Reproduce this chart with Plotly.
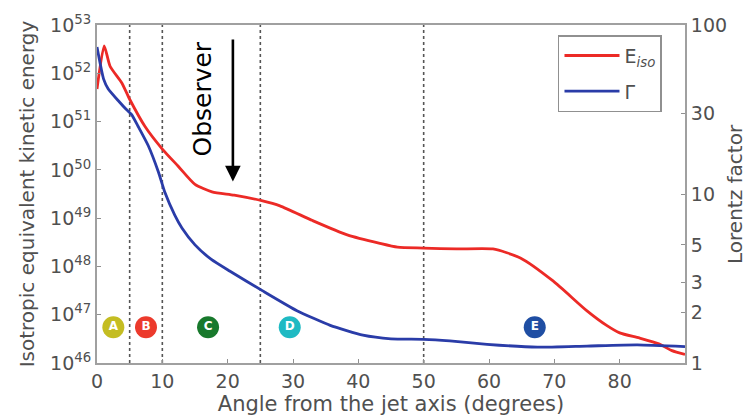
import plotly.graph_objects as go

# Isotropic equivalent kinetic energy (erg) versus angle from the jet axis
angle_e = [0, 1.1, 2, 3.8, 5, 7.35, 10, 12.4, 15, 17.6, 21, 25.2, 28, 33, 38.3,
           43.3, 46, 50, 55, 60.6, 64.8, 69.8, 75, 78, 80, 83, 86, 88, 90]
e_iso = [4.7e51, 3.7e52, 1.4e52, 6.3e51, 2.9e51, 7.9e50, 2.7e50, 1.2e50, 5.0e49,
         3.5e49, 3.0e49, 2.3e49, 1.8e49, 8.9e48, 4.5e48, 3.0e48, 2.5e48, 2.4e48,
         2.3e48, 2.3e48, 1.5e48, 5.0e47, 1.2e47, 6.0e46, 4.2e46, 3.3e46, 2.5e46,
         1.8e46, 1.5e46]

# Lorentz factor versus angle
angle_g = [0, 1.0, 1.7, 3.3, 4.5, 5.3, 6.3, 7.85, 9.4, 10.4, 11.9, 13, 15, 17.5,
           20.3, 25.3, 30.6, 35.7, 40.7, 45, 50, 54, 59.7, 67.4, 75, 82.7, 90]
gamma = [74, 48, 42, 35.5, 31.6, 29.5, 25.1, 19.3, 13.5, 10.2, 7.5, 6.3, 5.0, 4.1,
         3.5, 2.68, 2.04, 1.67, 1.46, 1.39, 1.38, 1.35, 1.29, 1.24, 1.26, 1.28, 1.25]

# Region boundaries and region markers
boundaries = [5, 10, 25, 50]
region_labels = ["A", "B", "C", "D", "E"]
region_x = [2.5, 7.5, 17, 29.5, 67]
region_colors = ["#c4bd22", "#ec3a2c", "#18792c", "#1fbac3", "#1f4ea3"]
region_level = 5.5e46

x_ticks = [0, 10, 20, 30, 40, 50, 60, 70, 80]
left_exps = [46, 47, 48, 49, 50, 51, 52, 53]
right_ticks = [1, 2, 3, 5, 10, 30, 100]

grey = "#505050"
font_family = "DejaVu Sans"

fig = go.Figure()

fig.add_trace(go.Scatter(
    x=angle_e, y=e_iso, mode="lines", name="E<sub><i>iso</i></sub>",
    legendgroup="e",
    line=dict(color="#ec2a26", width=2.8, shape="spline", smoothing=0.6),
    yaxis="y"))
fig.add_trace(go.Scatter(
    x=angle_g, y=gamma, mode="lines", name="Γ", legendgroup="g",
    line=dict(color="#2a3ca8", width=2.8, shape="spline", smoothing=0.5),
    yaxis="y2"))

fig.add_trace(go.Scatter(
    x=region_x, y=[region_level] * len(region_x), mode="markers+text",
    text=["<b>%s</b>" % s for s in region_labels], textposition="middle center",
    textfont=dict(color="white", size=12, family=font_family),
    marker=dict(size=22, color=region_colors, line=dict(width=0)),
    showlegend=False, hoverinfo="skip", yaxis="y"))

for b in boundaries:
    fig.add_shape(type="line", xref="x", yref="paper", x0=b, x1=b, y0=0, y1=1,
                  line=dict(color="#555555", width=1.6, dash="dot"), layer="below")

# Observer arrow and label
fig.add_annotation(x=20.8, y=49.76, ax=20.8, ay=52.73, xref="x", yref="y",
                   axref="x", ayref="y", showarrow=True, arrowhead=2,
                   arrowsize=1.2, arrowwidth=2.6, arrowcolor="black", text="")
fig.add_annotation(x=16.1, y=51.46, xref="x", yref="y", text="Observer",
                   textangle=-90, showarrow=False,
                   font=dict(size=25, color="black", family=font_family))

# Right-hand axis title
fig.add_annotation(x=1.1088, y=0.5, xref="paper", yref="paper",
                   text="Lorentz factor", textangle=-90, showarrow=False,
                   xanchor="right", yanchor="middle",
                   font=dict(size=20, color=grey, family=font_family))

axis_common = dict(showline=True, linecolor="#a0a0a0", linewidth=2,
                   ticks="inside", ticklen=4, tickcolor="#909090", showgrid=False,
                   zeroline=False, tickfont=dict(size=19, color=grey, family=font_family))

fig.update_layout(
    width=750, height=418,
    margin=dict(l=97, r=65, t=25, b=52),
    paper_bgcolor="white", plot_bgcolor="white",
    font=dict(family=font_family, color=grey),
    xaxis=dict(range=[0, 90], tickvals=x_ticks, mirror=True,
               title=dict(text="Angle from the jet axis (degrees)",
                          font=dict(size=21, color=grey), standoff=0),
               **axis_common),
    yaxis=dict(type="log", range=[46, 53], mirror=False,
               tickvals=[10.0 ** e for e in left_exps],
               ticktext=[f"10<sup>{e}</sup>" for e in left_exps],
               title=dict(text="Isotropic equivalent kinetic energy",
                          font=dict(size=20, color=grey), standoff=10),
               **axis_common),
    yaxis2=dict(type="log", range=[0, 2], overlaying="y", side="right",
                tickvals=right_ticks, ticktext=[str(t) for t in right_ticks],
                **axis_common),
    legend=dict(x=0.784, y=0.97, xanchor="left", yanchor="top",
                bgcolor="white", bordercolor="#909090", borderwidth=1.5,
                font=dict(size=19, color=grey, family=font_family),
                itemwidth=55, tracegroupgap=8),
    showlegend=True,
)

fig.write_html("out.html")
